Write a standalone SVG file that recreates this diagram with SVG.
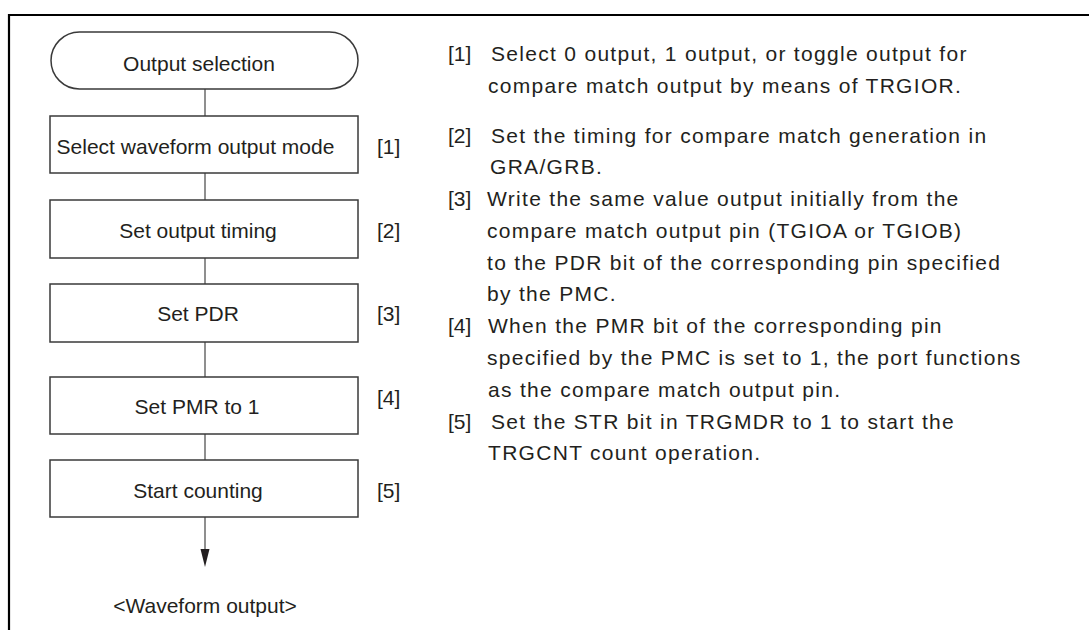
<svg xmlns="http://www.w3.org/2000/svg" width="1089" height="630" viewBox="0 0 1089 630">
<defs>
<style>
.t{font-family:"Liberation Sans",Arial,sans-serif;font-size:21px;fill:#231f20}
.c{text-anchor:middle}
.d{letter-spacing:1.3px}
.box{fill:#fff;stroke:#3a3a3a;stroke-width:1.5}
.ln{stroke:#6a6a6a;stroke-width:1.5;fill:none}
</style>
</defs>
<rect width="1089" height="630" fill="#fff"/>
<g id="frame">
<path d="M9,630 L9,15 L1089,15" fill="none" stroke="#000" stroke-width="2.2"/>
</g>
<g id="connectors">
<line class="ln" x1="205" y1="89" x2="205" y2="116"/>
<line class="ln" x1="205" y1="173" x2="205" y2="200"/>
<line class="ln" x1="205" y1="258" x2="205" y2="284"/>
<line class="ln" x1="205" y1="342" x2="205" y2="377"/>
<line class="ln" x1="205" y1="434" x2="205" y2="460"/>
<line class="ln" x1="205" y1="517" x2="205" y2="551"/>
<path d="M200.5,549 L209.5,549 L205,567 Z" fill="#231f20"/>
</g>
<g id="start">
<rect class="box" x="51" y="32" width="307" height="57" rx="28.5" ry="28.5"/>
<text class="t c" x="199" y="71">Output selection</text>
</g>
<g id="step1">
<rect class="box" x="50" y="116" width="308" height="57"/>
<text class="t c" x="195.5" y="154">Select waveform output mode</text>
<text class="t" x="377" y="154">[1]</text>
</g>
<g id="step2">
<rect class="box" x="50" y="200" width="308" height="58"/>
<text class="t c" x="198" y="238">Set output timing</text>
<text class="t" x="377" y="238">[2]</text>
</g>
<g id="step3">
<rect class="box" x="50" y="284" width="308" height="58"/>
<text class="t c" x="198" y="321">Set PDR</text>
<text class="t" x="377" y="321">[3]</text>
</g>
<g id="step4">
<rect class="box" x="50" y="377" width="308" height="57"/>
<text class="t c" x="197" y="414">Set PMR to 1</text>
<text class="t" x="377" y="405">[4]</text>
</g>
<g id="step5">
<rect class="box" x="50" y="460" width="308" height="57"/>
<text class="t c" x="198" y="498">Start counting</text>
<text class="t" x="377" y="498">[5]</text>
</g>
<g id="end">
<text class="t c" x="205" y="613">&lt;Waveform output&gt;</text>
</g>
<g id="notes">
<text class="t" x="448" y="61">[1]</text>
<text class="t d" x="491" y="61">Select 0 output, 1 output, or toggle output for</text>
<text class="t d" x="488" y="93">compare match output by means of TRGIOR.</text>
<text class="t" x="448" y="143">[2]</text>
<text class="t d" x="491" y="143">Set the timing for compare match generation in</text>
<text class="t d" x="490" y="174">GRA/GRB.</text>
<text class="t" x="448" y="206">[3]</text>
<text class="t d" x="487" y="206">Write the same value output initially from the</text>
<text class="t d" x="487" y="238">compare match output pin (TGIOA or TGIOB)</text>
<text class="t d" x="487" y="270">to the PDR bit of the corresponding pin specified</text>
<text class="t d" x="487" y="301">by the PMC.</text>
<text class="t" x="448" y="333">[4]</text>
<text class="t d" x="488" y="333">When the PMR bit of the corresponding pin</text>
<text class="t d" x="487" y="365">specified by the PMC is set to 1, the port functions</text>
<text class="t d" x="488" y="397">as the compare match output pin.</text>
<text class="t" x="448" y="429">[5]</text>
<text class="t d" x="491" y="429">Set the STR bit in TRGMDR to 1 to start the</text>
<text class="t d" x="488" y="460">TRGCNT count operation.</text>
</g>
</svg>
